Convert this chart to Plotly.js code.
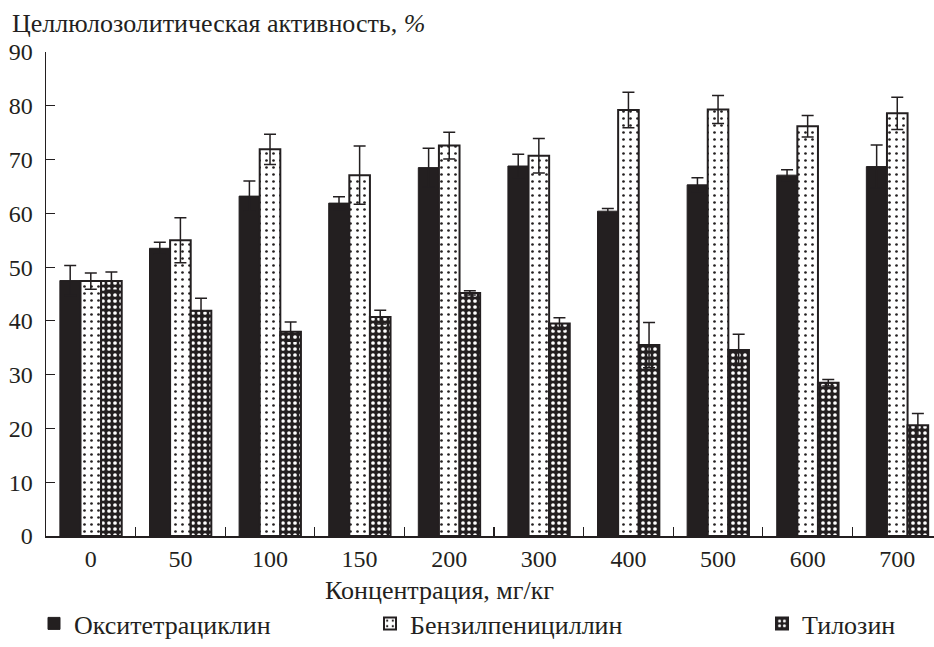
<!DOCTYPE html>
<html>
<head>
<meta charset="utf-8">
<script src="https://cdn.plot.ly/plotly-3.0.1.min.js"></script>
<style>html,body{margin:0;padding:0;background:#fff;}#chart{width:934px;height:647px;}</style>
</head>
<body>
<div id="chart"></div>
<script>
const categories = ['0','50','100','150','200','300','400','500','600','700'];
const seriesNames = ['Окситетрациклин','Бензилпенициллин','Тилозин'];
const oxytetracycline = [47.5, 53.5, 63.2, 61.9, 68.5, 68.8, 60.4, 65.3, 67.1, 68.7];
const oxytetracyclineErr = [2.8, 1.1, 2.8, 1.2, 3.6, 2.2, 0.5, 1.3, 1.0, 4.0];
const benzylpenicillin = [47.4, 55.0, 71.9, 67.1, 72.6, 70.7, 79.2, 79.3, 76.2, 78.6];
const benzylpenicillinErr = [1.5, 4.2, 2.8, 5.4, 2.5, 3.2, 3.3, 2.6, 2.0, 3.0];
const tylosin = [47.4, 41.9, 38.0, 40.7, 45.2, 39.5, 35.5, 34.6, 28.5, 20.6];
const tylosinErr = [1.7, 2.3, 1.8, 1.3, 0.4, 1.1, 4.2, 2.9, 0.6, 2.2];
const yTitle = 'Целлюлозолитическая активность, <i>%</i>';
const xTitle = 'Концентрация, мг/кг';

const INK = '#231f20';
const FONT = '"Liberation Serif", "Times New Roman", Times, serif';
const TEXT_SIZE = 26;
const TICK_SIZE = 24;
const errStyle = (arr) => ({type:'data', array: arr, visible:true, color: INK, thickness: 1.5, width: 6});

const traces = [
  {type:'bar', name: seriesNames[0], x: categories, y: oxytetracycline, error_y: errStyle(oxytetracyclineErr),
   marker:{color: INK, line:{color: INK, width:1}}, legend:'legend'},
  {type:'bar', name: seriesNames[1], x: categories, y: benzylpenicillin, error_y: errStyle(benzylpenicillinErr),
   marker:{color:'#ffffff', line:{color: INK, width:2},
     pattern:{shape:'.', fgcolor: INK, bgcolor:'#ffffff', size:7, solidity:0.12}}, legend:'legend2'},
  {type:'bar', name: seriesNames[2], x: categories, y: tylosin, error_y: errStyle(tylosinErr),
   marker:{color: INK, line:{color: INK, width:2},
     pattern:{shape:'.', fgcolor:'#ffffff', bgcolor: INK, size:6, solidity:0.3}}, legend:'legend3'}
];

const legendBase = {orientation:'h', xref:'container', yref:'container', yanchor:'bottom', y: -0.009, xanchor:'left',
  font:{family: FONT, size: TEXT_SIZE, color: INK}, bgcolor:'rgba(0,0,0,0)', borderwidth:0};

const layout = {
  width: 934, height: 647,
  margin: {l:46, r:0, t:52, b:111, pad:0},
  paper_bgcolor:'#ffffff', plot_bgcolor:'#ffffff',
  font:{family: FONT, size: TEXT_SIZE, color: INK},
  barmode:'group', bargap:0.31, bargroupgap:0,
  title:{text: yTitle, x: 12/934, xanchor:'left', xref:'container', y: 1-23/647, yanchor:'middle', yref:'container',
    font:{family: FONT, size: TEXT_SIZE, color: INK}},
  xaxis:{type:'category', range:[-0.5, 9.41], tickson:'boundaries', ticks:'inside', ticklen:9, tickwidth:1.2, tickcolor: INK,
    showline:true, linecolor: INK, linewidth:1.5, showgrid:false, zeroline:false, ticklabelstandoff:1,
    tickfont:{family: FONT, size:TICK_SIZE, color: INK}},
  yaxis:{range:[0,90], dtick:10, ticks:'inside', ticklen:9, tickwidth:1.2, tickcolor: INK,
    showline:true, linecolor: INK, linewidth:1.5, showgrid:false, zeroline:false, ticklabelstandoff:7,
    tickfont:{family: FONT, size:TICK_SIZE, color: INK}},
  annotations:[{text: xTitle, xref:'paper', yref:'paper', x:(439-46)/888, y:(536-590)/484,
    xanchor:'center', yanchor:'middle', showarrow:false, font:{family: FONT, size: TEXT_SIZE, color: INK}}],
  legend: Object.assign({}, legendBase, {x: 34/934}),
  legend2: Object.assign({}, legendBase, {x: 370/934}),
  legend3: Object.assign({}, legendBase, {x: 762/934}),
  showlegend:true
};

Plotly.newPlot('chart', traces, layout, {staticPlot:true, displayModeBar:false});
</script>
</body>
</html>
